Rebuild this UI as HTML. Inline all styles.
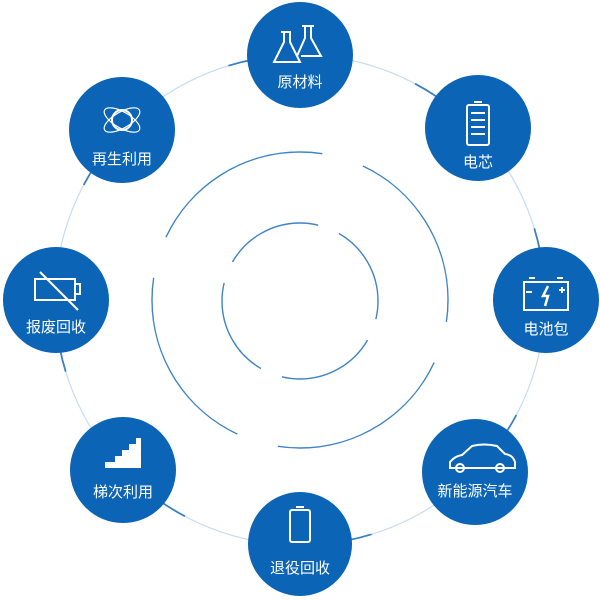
<!DOCTYPE html>
<html><head><meta charset="utf-8"><style>
html,body{margin:0;padding:0;background:#fff;width:600px;height:600px;overflow:hidden;position:relative}
svg{display:block;overflow:hidden;position:absolute;top:0;left:0}
text{font-family:"Liberation Sans","Noto Sans CJK SC",sans-serif;fill:#fff;font-size:15px;text-anchor:middle}
</style></head><body>
<svg width="600" height="600" viewBox="0 0 600 600" xmlns="http://www.w3.org/2000/svg">
<circle cx="300" cy="300" r="245" fill="none" stroke="#c6dcf0" stroke-width="1.2"/>
<circle cx="300" cy="300" r="245" fill="none" stroke="#1f6fbd" stroke-width="1.8" stroke-dasharray="50 142.4" stroke-dashoffset="265.1" opacity="0.85"/>
<circle cx="300" cy="300" r="148" fill="none" stroke="#1f6fbd" stroke-width="1.4" stroke-dasharray="190 42.5" stroke-dashoffset="167.9" opacity="0.85"/>
<circle cx="300" cy="301" r="78" fill="none" stroke="#1f6fbd" stroke-width="1.4" stroke-dasharray="100 22.5" stroke-dashoffset="81.7" opacity="0.85"/>
<g fill="#0b64b5">
<circle cx="300" cy="55" r="53"/>
<circle cx="478" cy="128" r="53"/>
<circle cx="546" cy="300" r="53"/>
<circle cx="475" cy="472" r="53"/>
<circle cx="300" cy="544" r="52"/>
<circle cx="123" cy="470" r="53"/>
<circle cx="56" cy="300" r="53"/>
<circle cx="122" cy="130" r="53"/>
</g>
<g stroke="#fff" fill="none" stroke-width="2">
<path d="M281 32h10M284 32v10l-10 20h26l-10-20v-10"/>
<path d="M302 26h12M305 26v12l-8 18M311 26v12l10 18h-20"/>
<rect x="467" y="105" width="22" height="40" rx="2"/><path d="M474 102h8"/>
<path d="M471 113h14M471 120h14M471 127h14M471 134h14"/>
<rect x="524" y="282" width="44" height="28"/><path d="M529 278h6M557 278h6M526 292h6M559 290h6M562 287v6"/>
<path d="M548 286l-5 10h5l-3 10" stroke-width="2.5"/>
<path d="M450 462q5-6 12-7l10-9q12-3 25 0l8 8q8 1 10 8v6h-65z"/>
<circle cx="460" cy="468" r="4"/><circle cx="500" cy="468" r="4"/>
<rect x="290" y="510" width="20" height="32" rx="2"/><path d="M296 507h8"/>
<rect x="35" y="279" width="40" height="21"/><rect x="75" y="284" width="5" height="10"/><path d="M40 272l38 38"/>
<circle cx="122" cy="120" r="10"/><ellipse cx="122" cy="120" rx="20" ry="8" transform="rotate(30 122 120)" stroke-width="1.2"/><ellipse cx="122" cy="120" rx="20" ry="8" transform="rotate(-30 122 120)" stroke-width="1.2"/>
</g>
<path d="M105 462h10v-6h7v-6h7v-6h7v-6h5v30h-36z" fill="#fff"/>
<text x="300" y="87">原材料</text>
<text x="478" y="167">电芯</text>
<text x="546" y="334">电池包</text>
<text x="475" y="496">新能源汽车</text>
<text x="300" y="573">退役回收</text>
<text x="123" y="497">梯次利用</text>
<text x="56" y="332">报废回收</text>
<text x="122" y="164">再生利用</text>
</svg>
</body></html>
